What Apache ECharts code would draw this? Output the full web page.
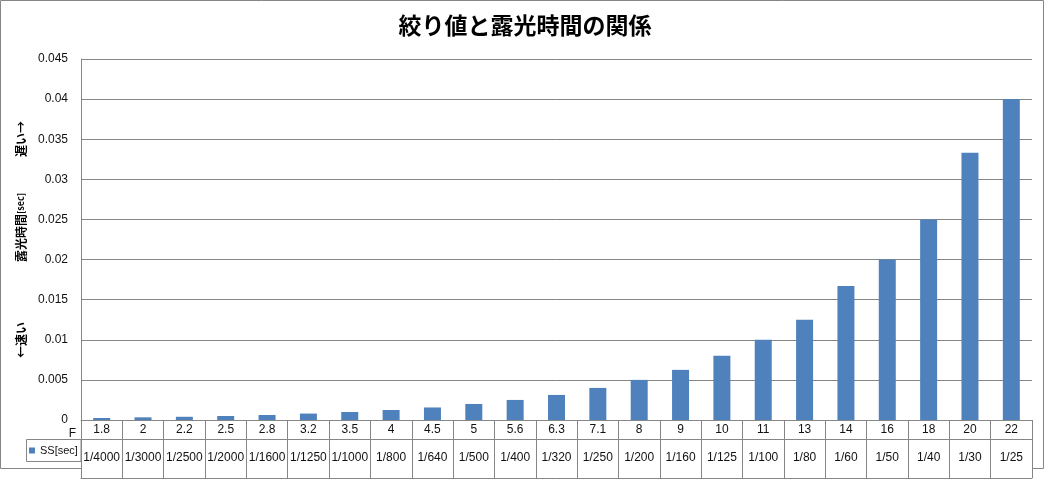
<!DOCTYPE html>
<html>
<head>
<meta charset="utf-8">
<script src="https://cdn.jsdelivr.net/npm/echarts@6/dist/echarts.min.js"></script>
<style>html,body{margin:0;padding:0;background:#fff;}#c{width:1050px;height:482px;}</style>
</head>
<body>
<div id="c"></div>
<script>
const titleText = '絞り値と露光時間の関係';
const fNumbers = ['1.8','2','2.2','2.5','2.8','3.2','3.5','4','4.5','5','5.6','6.3','7.1','8','9','10','11','13','14','16','18','20','22'];
const shutterLabels = ['1/4000','1/3000','1/2500','1/2000','1/1600','1/1250','1/1000','1/800','1/640','1/500','1/400','1/320','1/250','1/200','1/160','1/125','1/100','1/80','1/60','1/50','1/40','1/30','1/25'];
const ssValues = [0.00025,0.000333,0.0004,0.0005,0.000625,0.0008,0.001,0.00125,0.0015625,0.002,0.0025,0.003125,0.004,0.005,0.00625,0.008,0.01,0.0125,0.0167,0.02,0.025,0.0333,0.04];
const seriesName = 'SS[sec]';
const yTicks = {min: 0, max: 0.045, interval: 0.005};

const GRAY = '#868686';
const TXT = '#111';
const FONT = '"Liberation Sans", Arial, sans-serif';
const JP = '"Noto Sans CJK JP", sans-serif';

const chart = echarts.init(document.getElementById('c'));
chart.setOption({
  animation: false,
  backgroundColor: '#fff',
  title: {
    text: titleText, left: 'center', top: 14, padding: 0,
    textStyle: {fontFamily: JP, fontWeight: 'bold', fontSize: 23, color: '#000'}
  },
  legend: {
    left: 29, top: 445, padding: 0, icon: 'rect', itemWidth: 6, itemHeight: 6,
    textStyle: {fontFamily: FONT, fontSize: 11, color: TXT},
    data: [seriesName]
  },
  grid: {left: 81, right: 18, top: 59, bottom: 62, containLabel: false},
  xAxis: [
    {
      type: 'category', data: fNumbers, position: 'bottom',
      axisLine: {show: true, lineStyle: {color: GRAY, width: 1}},
      axisTick: {show: true, interval: 0, length: 58, lineStyle: {color: GRAY}},
      axisLabel: {interval: 0, margin: 4, fontFamily: FONT, fontSize: 12, color: TXT},
      name: 'F', nameLocation: 'start', nameGap: 5,
      nameTextStyle: {fontFamily: FONT, fontSize: 12, color: TXT, verticalAlign: 'top', padding: [8, 0, 0, 0]}
    },
    {
      type: 'category', data: shutterLabels, position: 'bottom', offset: 19,
      axisLine: {show: true, lineStyle: {color: GRAY, width: 1}},
      axisTick: {show: false},
      axisLabel: {interval: 0, margin: 13, fontFamily: FONT, fontSize: 12, color: TXT}
    },
    {
      type: 'category', data: fNumbers, position: 'bottom', offset: 58,
      axisLine: {show: true, lineStyle: {color: GRAY, width: 1}},
      axisTick: {show: false}, axisLabel: {show: false}
    }
  ],
  yAxis: {
    type: 'value', min: yTicks.min, max: yTicks.max, interval: yTicks.interval,
    axisLine: {show: true, lineStyle: {color: GRAY}},
    axisTick: {show: false},
    splitLine: {show: true, lineStyle: {color: GRAY, width: 1}},
    axisLabel: {margin: 13, fontFamily: FONT, fontSize: 12, color: TXT},
    name: '←速い　　　　　露光時間{s|[sec]}　　　遅い→',
    nameLocation: 'middle', nameRotate: 90, nameGap: 49,
    nameTextStyle: {fontFamily: JP, fontWeight: 'bold', fontSize: 12, color: '#000',
      rich: {s: {fontFamily: JP, fontWeight: 'bold', fontSize: 9, color: '#000'}}}
  },
  series: [{
    name: seriesName, type: 'bar', xAxisIndex: 0, data: ssValues,
    barWidth: 17, itemStyle: {color: '#4F81BD'}
  }],
  graphic: [
    {type: 'polyline', z: -1, silent: true,
      shape: {points: [[81, 468.5], [0.5, 468.5], [0.5, 0.5], [1043.5, 0.5], [1043.5, 468.5], [1032, 468.5]]},
      style: {stroke: GRAY, fill: null, lineWidth: 1}},
    {type: 'rect', silent: true,
      shape: {x: 26.5, y: 439.5, width: 54.5, height: 22},
      style: {stroke: GRAY, fill: null, lineWidth: 1}}
  ]
});
</script>
</body>
</html>
